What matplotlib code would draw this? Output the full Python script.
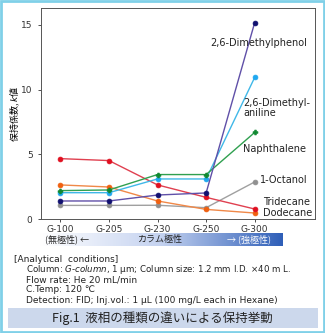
# 液相の種類による保持係数の違い

import numpy as np
import matplotlib.pyplot as plt
from matplotlib.patches import Rectangle
from matplotlib.colors import LinearSegmentedColormap

jp = ['Noto Sans CJK JP', 'DejaVu Sans']

columns = ['G-100', 'G-205', 'G-230', 'G-250', 'G-300']
dimethylphenol = [1.40, 1.40, 1.86, 2.02, 15.17]
dimethylaniline = [2.04, 2.04, 3.10, 3.10, 10.94]
naphthalene = [2.20, 2.25, 3.44, 3.44, 6.69]
octanol = [1.06, 1.06, 1.07, 0.88, 2.87]
tridecane = [4.67, 4.52, 2.64, 1.68, 0.78]
dodecane = [2.64, 2.48, 1.40, 0.75, 0.47]

fig = plt.figure(figsize=(3.25, 3.33), dpi=100)
ax = fig.add_axes([0.126, 0.342, 0.843, 0.634])

x = np.arange(len(columns))
series = [
    (octanol, '#a0a0a0', '#909090', 'o'),
    (dodecane, '#f08848', '#f06010', 'o'),
    (tridecane, '#e04050', '#e01020', 'o'),
    (dimethylaniline, '#40b8e8', '#20a8f0', 'o'),
    (naphthalene, '#30a050', '#108830', 'P'),
    (dimethylphenol, '#6050a8', '#101070', 'o'),
]
for y, lc, mc, m in series:
    ax.plot(x, y, color=lc, linewidth=1.0, marker=m, markersize=3.5,
            markerfacecolor=mc, markeredgecolor=mc, markeredgewidth=0.5)

# 化合物名
lab = dict(fontsize=7, color='#222222', ha='left', va='center')
ax.text(3.08, 13.6, '2,6-Dimethylphenol', **lab)
ax.text(3.76, 8.6, '2,6-Dimethyl-\naniline', linespacing=0.95, **lab)
ax.text(3.76, 5.4, 'Naphthalene', **lab)
ax.text(4.1, 3.0, '1-Octanol', **lab)
ax.text(4.18, 1.35, 'Tridecane', **lab)
ax.text(4.18, 0.5, 'Dodecane', **lab)

ax.set_xlim(-0.4, 5.24)
ax.set_ylim(0, 16.3)
ax.set_xticks(x)
ax.set_xticklabels(columns, fontsize=6.5)
ax.set_yticks([0, 5, 10, 15])
ax.tick_params(axis='y', labelsize=6.5, length=2.5, width=0.6, colors='#333333')
ax.tick_params(axis='x', length=2.5, width=0.6, colors='#333333', pad=1.5)
for s in ax.spines.values():
    s.set_color('#555555')
    s.set_linewidth(0.7)
ax.set_ylabel('保持係数, $k$値', family=jp, fontsize=6.5)
ax.yaxis.set_label_coords(-0.068, 0.5)

# カラム極性のグラデーション
bar = fig.add_axes([40 / 325, 1 - 246 / 333, 243 / 325, 13 / 333])
cmap = LinearSegmentedColormap.from_list('pol', ['#ffffff', '#c4d2f0', '#2f5fb8'])
bar.imshow(np.linspace(0, 1, 256)[None, :], aspect='auto', cmap=cmap, extent=[0, 1, 0, 1])
bar.set_axis_off()
bar.text(0.02, 0.5, '(無極性) ←', family=jp, fontsize=6.5, color='#222222', va='center')
bar.text(0.49, 0.5, 'カラム極性', family=jp, fontsize=6.5, color='#222222', va='center', ha='center')
bar.text(0.77, 0.5, '→ (強極性)', family=jp, fontsize=6.5, color='white', va='center')

# 分析条件
cond = dict(fontsize=6.5, color='#222222', va='center')
fig.text(14 / 325, 1 - 259 / 333, '[Analytical  conditions]', **cond)
fig.text(26 / 325, 1 - 269.5 / 333,
         r'Column: $\it{G\text{-}column}$, 1 μm; Column size: 1.2 mm I.D. ×40 m L.',
         fontsize=6.2, color='#222222', va='center')
fig.text(26 / 325, 1 - 280 / 333, 'Flow rate: He 20 mL/min', **cond)
fig.text(26 / 325, 1 - 290 / 333, 'C.Temp: 120 ℃', **cond)
fig.text(26 / 325, 1 - 300.5 / 333, 'Detection: FID; Inj.vol.: 1 μL (100 mg/L each in Hexane)', **cond)

# 図題
fig.patches.append(Rectangle((8 / 325, 1 - 328 / 333), 310 / 325, 20 / 333,
                             transform=fig.transFigure, facecolor='#ccd8ec', edgecolor='none'))
fig.text(0.5, 1 - 318 / 333, 'Fig.1  液相の種類の違いによる保持挙動', family=jp,
         fontsize=9, color='#222222', ha='center', va='center')

# 外枠
fig.patches.append(Rectangle((0.003, 0.003), 0.994, 0.994, transform=fig.transFigure,
                             facecolor='none', edgecolor='#80d0e8', linewidth=2))

fig.savefig('out.png', dpi=100)
